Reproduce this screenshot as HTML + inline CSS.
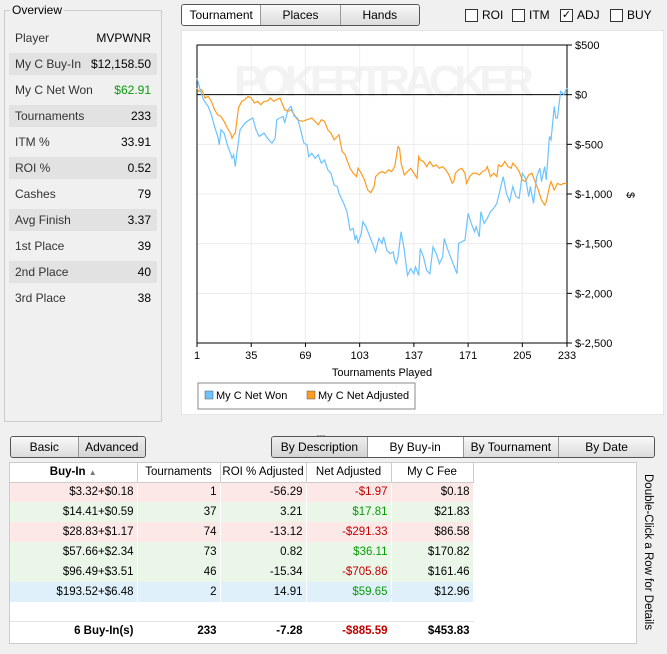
<!DOCTYPE html>
<html><head><meta charset="utf-8"><style>
*{box-sizing:border-box}
body{margin:0;width:667px;height:654px;background:#f0f0f0;font-family:"Liberation Sans",sans-serif;font-size:12px;color:#000;position:relative;overflow:hidden}
.abs{position:absolute}
.ov{left:4px;top:10px;width:158px;height:412px;border:1px solid #ccc;background:#f0f0f0}
.ovt{left:10px;top:3px;background:#f0f0f0;padding:0 2px;font-size:12px}
.row{position:absolute;left:9px;width:148px;height:22px;line-height:22px;padding:0 6px;display:flex;justify-content:space-between;color:#333}
.row.sh{background:#e2e2e2}
.btns{display:flex;border:1px solid #555;border-radius:3px;overflow:hidden;height:22px}
.btns div{flex:1;text-align:center;line-height:20px;background:linear-gradient(#f8f8f8,#dcdcdc);border-right:1px solid #999;white-space:nowrap}
.btns div:last-child{border-right:none}
.btns div.on{background:#fff}
.cb{display:flex;align-items:center;gap:4px}
.cb span{width:13px;height:13px;border:1px solid #333;background:#fff;display:inline-block;font-size:11px;line-height:11px;text-align:center}
table{border-collapse:collapse;font-size:11.5px;table-layout:fixed}
td{height:20px;padding:0 3px;text-align:right;border-right:1px solid #fff;white-space:nowrap;overflow:hidden}
th{height:19px;font-weight:normal;border-right:1px solid #ccc;border-bottom:1px solid #ccc;text-align:center;background:#fff;white-space:nowrap;overflow:hidden;padding:0}
.r{background:#fde8e8}.g{background:#eaf7e8}.b{background:#e0f0fa}
.neg{color:#c00000}.pos{color:#0a9a0a}
</style></head><body>
<div class="abs ov"></div>
<div class="abs ovt">Overview</div>
<div class="row" style="top:27px"><span>Player</span><span style="color:#000">MVPWNR</span></div>
<div class="row sh" style="top:53px"><span>My C Buy-In</span><span style="color:#000">$12,158.50</span></div>
<div class="row" style="top:79px"><span>My C Net Won</span><span style="color:#0a9a0a">$62.91</span></div>
<div class="row sh" style="top:105px"><span>Tournaments</span><span style="color:#000">233</span></div>
<div class="row" style="top:131px"><span>ITM %</span><span style="color:#000">33.91</span></div>
<div class="row sh" style="top:157px"><span>ROI %</span><span style="color:#000">0.52</span></div>
<div class="row" style="top:183px"><span>Cashes</span><span style="color:#000">79</span></div>
<div class="row sh" style="top:209px"><span>Avg Finish</span><span style="color:#000">3.37</span></div>
<div class="row" style="top:235px"><span>1st Place</span><span style="color:#000">39</span></div>
<div class="row sh" style="top:261px"><span>2nd Place</span><span style="color:#000">40</span></div>
<div class="row" style="top:287px"><span>3rd Place</span><span style="color:#000">38</span></div>

<div class="abs btns" style="left:181px;top:4px;width:239px">
<div class="on">Tournament</div><div>Places</div><div>Hands</div></div>
<div class="abs cb" style="left:465px;top:8px"><span></span>ROI</div>
<div class="abs cb" style="left:512px;top:8px"><span></span>ITM</div>
<div class="abs cb" style="left:560px;top:8px"><span>✓</span>ADJ</div>
<div class="abs cb" style="left:610px;top:8px"><span></span>BUY</div>

<svg class="abs" style="left:181px;top:30px" width="483" height="385" id="chart"></svg>

<div class="abs" style="left:316px;top:428px;font-size:9px;color:#888;letter-spacing:-1px">......</div>
<div class="abs btns" style="left:10px;top:436px;width:136px">
<div>Basic</div><div class="on" style="background:linear-gradient(#eee,#d4d4d4)">Advanced</div></div>
<div class="abs btns" style="left:271px;top:436px;width:384px">
<div style="background:linear-gradient(#eee,#d4d4d4)">By Description</div><div class="on">By Buy-in</div><div>By Tournament</div><div>By Date</div></div>

<div class="abs" style="left:9px;top:462px;width:628px;height:182px;background:#fff;border:1px solid #ccc">
<table style="width:463px">
<colgroup><col style="width:127px"><col style="width:83px"><col style="width:86px"><col style="width:85px"><col style="width:82px"></colgroup>
<tr><th style="font-weight:bold">Buy-In <span style="font-size:8px;color:#777">▲</span></th><th>Tournaments</th><th>ROI % Adjusted</th><th>Net Adjusted</th><th>My C Fee</th></tr>
<tr class="r"><td>$3.32+$0.18</td><td>1</td><td>-56.29</td><td class="neg">-$1.97</td><td>$0.18</td></tr>
<tr class="g"><td>$14.41+$0.59</td><td>37</td><td>3.21</td><td class="pos">$17.81</td><td>$21.83</td></tr>
<tr class="r"><td>$28.83+$1.17</td><td>74</td><td>-13.12</td><td class="neg">-$291.33</td><td>$86.58</td></tr>
<tr class="g"><td>$57.66+$2.34</td><td>73</td><td>0.82</td><td class="pos">$36.11</td><td>$170.82</td></tr>
<tr class="g"><td>$96.49+$3.51</td><td>46</td><td>-15.34</td><td class="neg">-$705.86</td><td>$161.46</td></tr>
<tr class="b"><td>$193.52+$6.48</td><td>2</td><td>14.91</td><td class="pos">$59.65</td><td>$12.96</td></tr>
<tr><td colspan="5" style="height:19px;border-bottom:1px solid #e4e4e4"></td></tr>
<tr style="font-weight:bold"><td>6 Buy-In(s)</td><td>233</td><td>-7.28</td><td class="neg">-$885.59</td><td>$453.83</td></tr>
</table></div>
<div class="abs" style="left:638px;top:474px;width:16px;height:160px;writing-mode:vertical-rl;font-size:11.5px;white-space:nowrap">Double-Click a Row for Details</div>

<script>
const xTicks=[1,35,69,103,137,171,205,233];
const yTicks=[500,0,-500,-1000,-1500,-2000,-2500];
const yTickLabels=["$500","$0","$-500","$-1,000","$-1,500","$-2,000","$-2,500"];
const netWonX=[1,3,5,8,10,12,14,15,16,18,20,22,23,24,25,26,28,31,34,36,38,40,43,46,48,50,51,53,55,56,58,60,62,64,66,68,70,71,73,75,77,79,81,83,85,87,89,90,93,95,97,99,100,101,102,104,105,107,109,111,113,115,117,118,120,122,124,125,126,127,129,131,132,133,135,137,138,140,141,143,145,147,149,151,153,155,156,158,160,162,164,165,167,169,171,173,175,176,178,179,181,183,185,187,189,191,193,195,197,199,201,203,205,207,209,210,212,214,216,217,219,220,222,223,225,226,227,229,231,233];
const netWonY=[168,50,-50,-118,-202,-320,-420,-505,-354,-387,-505,-589,-640,-606,-724,-589,-354,-286,-252,-235,-354,-420,-387,-455,-488,-438,-252,-235,-219,-286,-152,-118,-219,-235,-354,-488,-505,-623,-589,-640,-606,-690,-657,-757,-791,-909,-926,-993,-1094,-1178,-1364,-1347,-1465,-1414,-1498,-1397,-1279,-1330,-1414,-1498,-1583,-1448,-1498,-1431,-1566,-1600,-1583,-1667,-1701,-1634,-1380,-1566,-1701,-1819,-1751,-1802,-1734,-1819,-1549,-1634,-1768,-1802,-1532,-1600,-1701,-1634,-1448,-1549,-1634,-1718,-1802,-1498,-1481,-1465,-1195,-1296,-1380,-1330,-1431,-1178,-1296,-1246,-1178,-1145,-1094,-960,-825,-993,-1077,-926,-1027,-1044,-791,-842,-1027,-926,-1094,-825,-741,-875,-724,-858,-420,-455,-118,-235,-235,34,0,67];
const adjX=[1,2,4,6,8,10,12,14,16,18,20,22,23,24,25,27,29,31,33,35,37,39,41,43,45,47,49,53,56,58,60,62,64,67,70,73,75,77,79,81,83,85,87,89,90,92,94,95,97,99,101,102,104,106,108,110,112,113,115,117,119,121,123,125,126,127,128,129,131,133,135,137,139,140,141,143,145,147,149,151,153,155,157,159,161,162,163,165,167,169,170,172,174,176,178,180,182,183,185,187,189,190,192,194,196,198,199,201,203,205,207,209,211,213,215,217,219,220,222,223,225,227,229,231,233];
const adjY=[67,34,50,-34,-17,-67,-152,-202,-219,-269,-337,-387,-438,-404,-387,-135,-67,-50,-17,-34,-84,-67,-101,-67,-67,-34,-67,-34,-152,-168,-152,-202,-252,-269,-252,-235,-269,-303,-252,-269,-354,-387,-455,-420,-404,-572,-606,-657,-741,-791,-825,-741,-791,-858,-960,-987,-926,-825,-791,-774,-791,-757,-774,-724,-623,-522,-539,-690,-808,-774,-741,-791,-842,-623,-657,-673,-724,-673,-724,-707,-741,-724,-757,-808,-892,-875,-791,-757,-741,-791,-892,-825,-791,-791,-808,-774,-757,-724,-825,-791,-825,-707,-724,-673,-724,-741,-690,-724,-774,-858,-875,-808,-791,-875,-960,-1061,-1111,-1077,-926,-875,-960,-892,-909,-892,-899];
const seriesNames=["My C Net Won","My C Net Adjusted"];
const svg=document.getElementById('chart');const NS='http://www.w3.org/2000/svg';
const L=16,R=386,T=15,B=313;
const sx=v=>L+(v-1)/(233-1)*(R-L);
const sy=v=>T+(500-v)/3000*(B-T);
function mk(t,a,p){const e=document.createElementNS(NS,t);for(const k in a)e.setAttribute(k,a[k]);(p||svg).appendChild(e);return e;}
mk('rect',{x:0,y:0,width:483,height:385,fill:'#fff',stroke:'#ccc'});
const wm=mk('text',{x:203,y:66,'font-size':44,'font-weight':'bold',fill:'#f3f3f3','text-anchor':'middle','font-family':'Liberation Sans','textLength':300});wm.textContent='POKERTRACKER';


xTicks.forEach(t=>{const l=mk('line',{x1:sx(t),x2:sx(t),y1:T,y2:B,stroke:'#ececec'});


const tx=mk('text',{x:sx(t),y:B+16,'text-anchor':'middle','font-size':11});tx.textContent=t;


mk('line',{x1:sx(t),x2:sx(t),y1:B,y2:B+4,stroke:'#000'});});
yTicks.forEach((t,i)=>{const l=mk('line',{x1:L,x2:R,y1:sy(t),y2:sy(t),stroke:t===0?'#000':'#ececec'});


mk('line',{x1:R,x2:R+5,y1:sy(t),y2:sy(t),stroke:'#000'});
const tx=mk('text',{x:R+8,y:sy(t)+4,'font-size':11});tx.textContent=yTickLabels[i];

});
mk('rect',{x:L,y:T,width:R-L,height:B-T,fill:'none',stroke:'#000'});
function line(xs,ys,c,n){const p=mk('polyline',{points:xs.map((x,i)=>sx(x)+','+sy(ys[i])).join(' '),fill:'none',stroke:c,'stroke-width':1.2});

}
line(adjX,adjY,'#ff9a1e','net-adjusted-line');
line(netWonX,netWonY,'#6cc3ff','net-won-line');
const xt=mk('text',{x:201,y:346,'text-anchor':'middle','font-size':11});xt.textContent='Tournaments Played';


const yt=mk('text',{x:446,y:165,'font-size':11,transform:'rotate(90 446 165)','text-anchor':'middle'});yt.textContent='$';


const lg=mk('g',{});


mk('rect',{x:17,y:353,width:217,height:26,fill:'#fff',stroke:'#888'},lg);
[['#6cc3ff',24],['#ff9a1e',126]].forEach((c,i)=>{mk('rect',{x:c[1],y:361,width:8,height:8,fill:c[0],stroke:'#555','stroke-width':0.5},lg);
const t=mk('text',{x:c[1]+11,y:369,'font-size':11},lg);t.textContent=seriesNames[i];

});
</script>
</body></html>
